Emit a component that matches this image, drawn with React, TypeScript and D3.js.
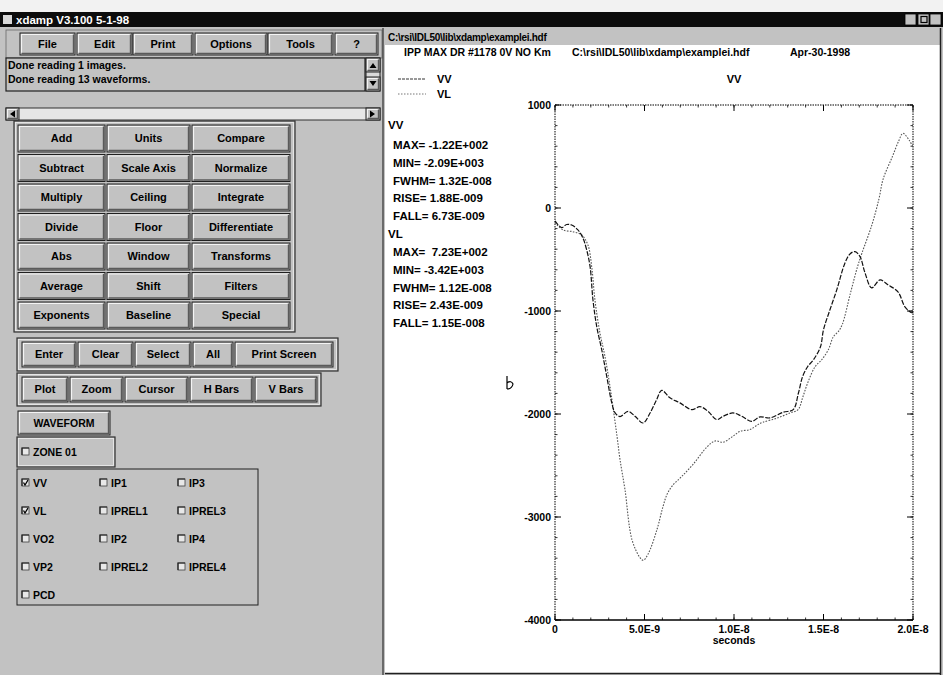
import * as d3 from 'd3';

// waveform samples: [time (ns), value]
const vvPoints: [number, number][] = [
  [0, -125], [0.37, -190], [0.65, -160], [0.93, -165], [1.28, -213], [1.56, -291], [1.77, -407],
  [1.96, -569], [2.12, -891], [2.33, -1150], [2.61, -1376], [2.89, -1635], [3.17, -1890],
  [3.35, -1987], [3.63, -2025], [4.08, -1974], [4.47, -2022], [4.92, -2087], [5.31, -1990],
  [5.68, -1860], [5.96, -1770], [6.42, -1843], [6.98, -1892], [7.64, -1958], [8.1, -1929],
  [8.55, -1974], [9.03, -2054], [9.39, -2022], [9.94, -1990], [10.43, -2022], [10.99, -2071],
  [11.45, -2028], [12.0, -2038], [12.75, -1983], [13.31, -1957], [13.6, -1796], [13.83, -1638],
  [14.11, -1541], [14.44, -1473], [14.83, -1347], [15.0, -1182], [15.36, -988], [15.74, -795],
  [16.2, -533], [16.48, -446], [16.76, -423], [17.04, -472], [17.32, -630], [17.69, -775],
  [18.16, -698], [18.6, -746], [19.16, -814], [19.55, -959], [19.93, -1017], [20, -1010],
];

const vlPoints: [number, number][] = [
  [0, -140], [0.45, -213], [1.0, -230], [1.49, -262], [1.84, -359], [2.05, -569], [2.23, -891],
  [2.51, -1213], [2.79, -1441], [3.07, -1731], [3.35, -2070], [3.49, -2250], [3.63, -2440],
  [3.91, -2735], [4.3, -3220], [4.75, -3395], [4.93, -3420], [5.2, -3360], [5.7, -3120],
  [6.03, -2900], [6.26, -2780], [6.54, -2700], [7.09, -2605], [7.71, -2490], [8.49, -2320],
  [8.94, -2262], [9.39, -2274], [9.94, -2216], [10.34, -2168], [10.89, -2151], [11.34, -2103],
  [11.62, -2080], [12.4, -2040], [13.13, -1990], [13.58, -1957], [13.85, -1832], [14.13, -1692],
  [14.53, -1541], [14.9, -1473], [15.27, -1376], [15.55, -1250], [15.83, -1199], [16.05, -1130],
  [16.5, -830], [16.9, -570], [17.15, -437], [17.7, -166], [18.1, 90], [18.33, 280], [18.85, 500],
  [19.2, 650], [19.44, 725], [19.78, 660], [20, 592],
];

const xTicks = [0, 5, 10, 15, 20];
const xTickLabels = ['0', '5.0E-9', '1.0E-8', '1.5E-8', '2.0E-8'];
const yTicks = [1000, 0, -1000, -2000, -3000, -4000];
const yTickLabels = ['1000', '0', '-1000', '-2000', '-3000', '-4000'];

const vvStats = ['MAX= -1.22E+002', 'MIN= -2.09E+003', 'FWHM= 1.32E-008', 'RISE= 1.88E-009', 'FALL= 6.73E-009'];
const vlStats = ['MAX=  7.23E+002', 'MIN= -3.42E+003', 'FWHM= 1.12E-008', 'RISE= 2.43E-009', 'FALL= 1.15E-008'];

const menuItems = ['File', 'Edit', 'Print', 'Options', 'Tools', '?'];
const messages = ['Done reading 1 images.', 'Done reading 13 waveforms.'];
const opRows = [
  ['Add', 'Units', 'Compare'],
  ['Subtract', 'Scale Axis', 'Normalize'],
  ['Multiply', 'Ceiling', 'Integrate'],
  ['Divide', 'Floor', 'Differentiate'],
  ['Abs', 'Window', 'Transforms'],
  ['Average', 'Shift', 'Filters'],
  ['Exponents', 'Baseline', 'Special'],
];
const actionRow1 = ['Enter', 'Clear', 'Select', 'All', 'Print Screen'];
const actionRow2 = ['Plot', 'Zoom', 'Cursor', 'H Bars', 'V Bars'];
const signalRows = [
  ['VV', 'IP1', 'IP3'],
  ['VL', 'IPREL1', 'IPREL3'],
  ['VO2', 'IP2', 'IP4'],
  ['VP2', 'IPREL2', 'IPREL4'],
  ['PCD'],
];
const checkedSignals = ['VV', 'VL'];

const FACE = '#c2c2c2';
const FONT = '"Liberation Sans", Arial, sans-serif';

function Raised({ x, y, w, h, label, size = 11 }: { x: number; y: number; w: number; h: number; label?: string; size?: number }) {
  return (
    <g>
      <rect x={x} y={y} width={w} height={h} fill={FACE} stroke="#202020" strokeWidth={1} />
      <polyline points={`${x + 1.5},${y + h - 1.5} ${x + 1.5},${y + 1.5} ${x + w - 1.5},${y + 1.5}`} fill="none" stroke="#f4f4f4" strokeWidth={1.2} />
      <polyline points={`${x + 1.5},${y + h - 1.5} ${x + w - 1.5},${y + h - 1.5} ${x + w - 1.5},${y + 1.5}`} fill="none" stroke="#5a5a5a" strokeWidth={1.4} />
      {label && (
        <text x={x + w / 2} y={y + h / 2 + size * 0.36} textAnchor="middle" fontSize={size} fontWeight="bold" fontFamily={FONT} fill="#000">
          {label}
        </text>
      )}
    </g>
  );
}

function Frame({ x, y, w, h }: { x: number; y: number; w: number; h: number }) {
  return (
    <g fill="none">
      <rect x={x} y={y} width={w} height={h} stroke="#303030" strokeWidth={1.2} />
      <rect x={x + 1.5} y={y + 1.5} width={w - 3} height={h - 3} stroke="#eeeeee" strokeWidth={0.8} />
    </g>
  );
}

function CheckBox({ x, y, label, checked }: { x: number; y: number; label: string; checked: boolean }) {
  return (
    <g>
      <rect x={x} y={y - 4} width={7} height={7} fill="#e8e8e8" stroke="#404040" strokeWidth={0.8} />
      <polyline points={`${x},${y + 3} ${x},${y - 4} ${x + 7},${y - 4}`} fill="none" stroke="#202020" strokeWidth={1.2} />
      {checked && <path d={`M${x + 1.5},${y - 0.5} L${x + 3},${y + 2} L${x + 6},${y - 3}`} fill="none" stroke="#000" strokeWidth={1.3} />}
      <text x={x + 11} y={y + 3.5} fontSize={10.5} fontWeight="bold" fontFamily={FONT} fill="#000">
        {label}
      </text>
    </g>
  );
}

export default function App() {
  const x = d3.scaleLinear().domain([0, 20]).range([555, 913]);
  const y = d3.scaleLinear().domain([-4000, 1000]).range([620, 105]);
  const line = d3
    .line<[number, number]>()
    .x((d) => x(d[0]))
    .y((d) => y(d[1]))
    .curve(d3.curveCatmullRom.alpha(0.5));

  const [x0, x1] = x.range();
  const [y0, y1] = y.range();
  const xMinor = d3.range(0, 20.01, 1);
  const yMinor = d3.range(-4000, 1001, 200);

  // left panel geometry
  const menuX = [20, 77, 133, 195, 268, 335];
  const menuW = [55, 55, 60, 72, 65, 43];
  const opX = [18, 107, 192];
  const opW = [87, 83, 98];
  const row1X = [22, 78, 135, 193, 235];
  const row1W = [54, 55, 56, 40, 98];
  const row2X = [22, 70, 125, 190, 255];
  const row2W = [46, 53, 63, 63, 62];
  const sigX = [22, 100, 178];

  return (
    <svg width={943} height={675} style={{ position: 'absolute', left: 0, top: 0 }} fontFamily={FONT}>
      <rect width={943} height={675} fill={FACE} />
      <rect width={943} height={12} fill="#f2f2f2" />

      {/* title bar */}
      <rect x={0} y={12} width={943} height={15} fill="#0c0c0c" />
      <rect x={3} y={15} width={9} height={9} fill="#d8d8d8" />
      <text x={16} y={24} fontSize={11.5} fontWeight="bold" fill="#fff">xdamp V3.100 5-1-98</text>
      {[905, 918, 930].map((bx) => (
        <rect key={bx} x={bx} y={14} width={11} height={11} fill={FACE} stroke="#000" strokeWidth={0.8} />
      ))}
      <rect x={921} y={16.5} width={6} height={6} fill="none" stroke="#000" strokeWidth={1.2} />

      {/* menu bar */}
      <rect x={6} y={30} width={376} height={28} fill={FACE} stroke="#6a6a6a" strokeWidth={0.8} />
      {menuItems.map((m, i) => (
        <Raised key={m} x={menuX[i]} y={33} w={menuW[i]} h={22} label={m} />
      ))}

      {/* message list */}
      <rect x={6} y={58} width={359} height={33} fill={FACE} stroke="#202020" strokeWidth={1.2} />
      {messages.map((m, i) => (
        <text key={m} x={8} y={69 + i * 14} fontSize={10.5} fontWeight="bold" fill="#000">{m}</text>
      ))}
      <rect x={366} y={58} width={14} height={33} fill="#dadada" stroke="#202020" strokeWidth={1} />
      <Raised x={366} y={58} w={14} h={14} />
      <Raised x={366} y={77} w={14} h={14} />
      <path d="M369.5,68 L373,63 L376.5,68 Z M369.5,81 L373,86 L376.5,81 Z" fill="#000" />

      {/* horizontal scroll bar */}
      <rect x={6} y={108} width={374} height={12} fill="#e6e6e6" stroke="#303030" strokeWidth={1} />
      <Raised x={6} y={108} w={13} h={12} />
      <Raised x={366} y={108} w={14} h={12} />
      <path d="M15,110.5 L10,114 L15,117.5 Z M370,110.5 L375,114 L370,117.5 Z" fill="#000" />

      {/* operation grid */}
      <Frame x={14} y={121} w={281} h={211} />
      {opRows.map((row, r) =>
        row.map((label, c) => (
          <Raised key={label} x={opX[c]} y={125 + r * 29.5} w={opW[c]} h={27} label={label} />
        ))
      )}

      {/* action rows */}
      <Frame x={17} y={338} w={321} h={33} />
      {actionRow1.map((label, i) => (
        <Raised key={label} x={row1X[i]} y={342} w={row1W[i]} h={25} label={label} />
      ))}
      <Frame x={17} y={373} w={304} h={33} />
      {actionRow2.map((label, i) => (
        <Raised key={label} x={row2X[i]} y={377} w={row2W[i]} h={25} label={label} />
      ))}

      <Raised x={18} y={411} w={92} h={24} label="WAVEFORM" size={10.5} />
      <Frame x={17} y={437} w={98} h={30} />
      <CheckBox x={22} y={452} label="ZONE 01" checked={false} />

      <rect x={17} y={469} width={241} height={136} fill="none" stroke="#202020" strokeWidth={1} />
      {signalRows.map((row, r) =>
        row.map((label, c) => (
          <CheckBox key={label} x={sigX[c]} y={483 + r * 28} label={label} checked={checkedSignals.includes(label)} />
        ))
      )}

      {/* divider between panels */}
      <line x1={383} y1={28} x2={383} y2={675} stroke="#303030" strokeWidth={1.2} />

      {/* plot panel */}
      <rect x={385} y={30} width={555} height={15} fill={FACE} />
      <text x={388} y={41} fontSize={10} fontWeight="bold" letterSpacing={-0.3} fill="#000">C:\rsi\IDL50\lib\xdamp\examplei.hdf</text>
      <rect x={385} y={45} width={555} height={628} fill="#ffffff" />
      <line x1={940.5} y1={28} x2={940.5} y2={675} stroke="#202020" strokeWidth={1.5} />
      <line x1={385} y1={673.5} x2={941} y2={673.5} stroke="#202020" strokeWidth={1.5} />

      <text y={56} fontSize={10.5} fontWeight="bold" fill="#000">
        <tspan x={404}>IPP MAX DR #1178 0V NO Km</tspan>
        <tspan x={572}>C:\rsi\IDL50\lib\xdamp\examplei.hdf</tspan>
        <tspan x={790}>Apr-30-1998</tspan>
      </text>

      <line x1={398} y1={79} x2={426} y2={79} stroke="#333" strokeWidth={1} strokeDasharray="3,1" />
      <text x={437} y={83} fontSize={11} fontWeight="bold">VV</text>
      <line x1={398} y1={94} x2={426} y2={94} stroke="#777" strokeWidth={1} strokeDasharray="1.5,1.5" />
      <text x={437} y={98} fontSize={11} fontWeight="bold">VL</text>
      <text x={(x0 + x1) / 2} y={83} textAnchor="middle" fontSize={11} fontWeight="bold">VV</text>

      <text x={388} y={129} fontSize={11.5} fontWeight="bold">VV</text>
      {vvStats.map((s, i) => (
        <text key={s} x={393} y={149 + i * 17.8} fontSize={11.5} fontWeight="bold" style={{ whiteSpace: 'pre' }}>{s}</text>
      ))}
      <text x={388} y={238} fontSize={11.5} fontWeight="bold">VL</text>
      {vlStats.map((s, i) => (
        <text key={s} x={393} y={256 + i * 17.8} fontSize={11.5} fontWeight="bold" style={{ whiteSpace: 'pre' }}>{s}</text>
      ))}

      {/* mouse cursor */}
      <path d="M507,376 L507,389 M507,383 Q511,380 513,384 Q512,389 507,389" fill="none" stroke="#000" strokeWidth={1.2} />

      {/* axes box */}
      <g stroke="#000" fill="none">
        <line x1={x0} y1={y1} x2={x1} y2={y1} strokeWidth={1} strokeDasharray="1.5,1" />
        <line x1={x0} y1={y0} x2={x0} y2={y1} strokeWidth={1} strokeDasharray="1.5,1" />
        <line x1={x1} y1={y0} x2={x1} y2={y1} strokeWidth={1} strokeDasharray="1.5,1" />
        <line x1={x0} y1={y0} x2={x1} y2={y0} strokeWidth={1.6} />
        {xTicks.map((t) => (
          <g key={`xt${t}`}>
            <line x1={x(t)} y1={y0} x2={x(t)} y2={y0 - 6} />
            <line x1={x(t)} y1={y1} x2={x(t)} y2={y1 + 6} />
          </g>
        ))}
        {xMinor.map((t) => (
          <g key={`xm${t}`} strokeWidth={0.8}>
            <line x1={x(t)} y1={y0} x2={x(t)} y2={y0 - 2.5} />
            <line x1={x(t)} y1={y1} x2={x(t)} y2={y1 + 2.5} />
          </g>
        ))}
        {yTicks.map((v) => (
          <g key={`yt${v}`}>
            <line x1={x0} y1={y(v)} x2={x0 + 6} y2={y(v)} />
            <line x1={x1} y1={y(v)} x2={x1 - 6} y2={y(v)} />
          </g>
        ))}
        {yMinor.map((v) => (
          <g key={`ym${v}`} strokeWidth={0.8}>
            <line x1={x0} y1={y(v)} x2={x0 + 2.5} y2={y(v)} />
            <line x1={x1} y1={y(v)} x2={x1 - 2.5} y2={y(v)} />
          </g>
        ))}
      </g>
      {yTicks.map((v, i) => (
        <text key={`yl${v}`} x={x0 - 4} y={y(v) + 4} textAnchor="end" fontSize={10.5} fontWeight="bold">{yTickLabels[i]}</text>
      ))}
      {xTicks.map((t, i) => (
        <text key={`xl${t}`} x={x(t)} y={y0 + 13} textAnchor="middle" fontSize={10.5} fontWeight="bold">{xTickLabels[i]}</text>
      ))}
      <text x={(x0 + x1) / 2} y={y0 + 24} textAnchor="middle" fontSize={10.5} fontWeight="bold">seconds</text>

      <path d={line(vlPoints) ?? ''} fill="none" stroke="#555" strokeWidth={1.1} strokeDasharray="1.6,1.4" />
      <path d={line(vvPoints) ?? ''} fill="none" stroke="#111" strokeWidth={1.2} strokeDasharray="5,1.5" />
    </svg>
  );
}
